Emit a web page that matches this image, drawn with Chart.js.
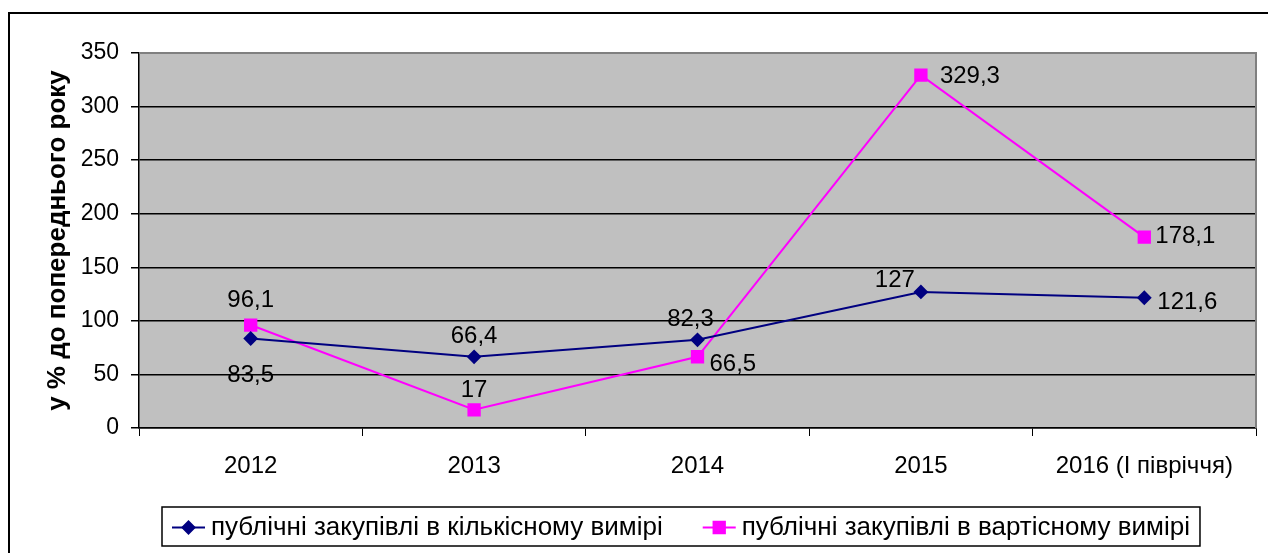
<!DOCTYPE html>
<html>
<head>
<meta charset="utf-8">
<script src="https://cdn.jsdelivr.net/npm/chart.js@4"></script>
<style>
    html, body { margin: 0; padding: 0; background: #fff; }
    #wrap { width: 1268px; height: 553px; }
</style>
</head>
<body>
<div id="wrap"><canvas id="chart" width="1268" height="553"></canvas></div>
<script>
const categories = ["2012", "2013", "2014", "2015", "2016 (І півріччя)"];
const seriesNames = [
    "публічні закупівлі в кількісному вимірі",
    "публічні закупівлі в вартісному вимірі"
];
const kilkist = [83.5, 66.4, 82.3, 127, 121.6];
const vartist = [96.1, 17, 66.5, 329.3, 178.1];
const yTicks = [0, 50, 100, 150, 200, 250, 300, 350];
const yTitle = "у % до попереднього року";

const FONT = "'Liberation Sans', Arial, sans-serif";

// where each value label sits relative to its point: [dx, dy, align]
const labelPlace = [
    [[0, 37, "center"], [0, -20, "center"], [-7, -20, "center"], [-6, -12, "right"], [13, 5, "left"]],
    [[0, -25, "center"], [0, -19, "center"], [12, 8, "left"], [19, 1, "left"], [11, -1, "left"]]
];

function fmt(v) {
    return String(v).replace(".", ",");
}

/* =========================
   фон, рамки, підписи, легенда
========================= */
const decor = {
    id: "decor",
    beforeDraw(chart) {
        const { ctx, chartArea: a } = chart;
        ctx.save();
        ctx.fillStyle = "#fff";
        ctx.fillRect(0, 0, chart.width, chart.height);
        ctx.fillStyle = "#C0C0C0";
        ctx.fillRect(a.left, a.top, a.right - a.left, a.bottom - a.top);
        ctx.restore();
    },
    beforeDatasetsDraw(chart) {
        const { ctx, chartArea: a } = chart;
        ctx.save();
        ctx.strokeStyle = "#808080";
        ctx.lineWidth = 2;
        ctx.beginPath();
        ctx.moveTo(a.left, a.top);
        ctx.lineTo(a.right, a.top);
        ctx.lineTo(a.right, a.bottom);
        ctx.stroke();
        ctx.restore();
    },
    afterDatasetsDraw(chart) {
        const { ctx } = chart;
        ctx.save();
        ctx.font = "24px " + FONT;
        ctx.fillStyle = "#000";
        ctx.textBaseline = "middle";
        chart.data.datasets.forEach((ds, di) => {
            chart.getDatasetMeta(di).data.forEach((pt, i) => {
                const [dx, dy, al] = labelPlace[di][i];
                ctx.textAlign = al;
                ctx.fillText(fmt(ds.data[i]), pt.x + dx, pt.y + dy);
            });
        });
        ctx.restore();
    },
    afterDraw(chart) {
        const { ctx } = chart;
        ctx.save();
        // зовнішня рамка
        ctx.strokeStyle = "#000";
        ctx.lineWidth = 2;
        ctx.beginPath();
        ctx.moveTo(9, chart.height);
        ctx.lineTo(9, 13);
        ctx.lineTo(chart.width, 13);
        ctx.stroke();

        // легенда
        ctx.font = "26px " + FONT;
        ctx.textBaseline = "middle";
        ctx.textAlign = "left";
        const boxLeft = 162, boxTop = 507, boxH = 39, cy = boxTop + boxH / 2 + 1;
        let x = boxLeft + 10;
        chart.data.datasets.forEach((ds, di) => {
            ctx.strokeStyle = ds.borderColor;
            ctx.lineWidth = 2;
            ctx.beginPath();
            ctx.moveTo(x, cy);
            ctx.lineTo(x + 33, cy);
            ctx.stroke();
            Chart.helpers.drawPoint(ctx, {
                pointStyle: ds.pointStyle,
                radius: ds.pointRadius,
                borderWidth: 1
            }, x + 16.5, cy);
            ctx.fillStyle = ds.borderColor;
            ctx.fill();
            ctx.fillStyle = "#000";
            ctx.fillText(ds.label, x + 39, cy);
            x += 39 + ctx.measureText(ds.label).width + 40;
        });
        const boxRight = x - 40 + 10;
        ctx.strokeStyle = "#000";
        ctx.lineWidth = 1.5;
        ctx.strokeRect(boxLeft, boxTop, boxRight - boxLeft, boxH);
        ctx.restore();
    }
};

new Chart(document.getElementById("chart"), {
    type: "line",
    data: {
        labels: categories,
        datasets: [
            {
                label: seriesNames[0],
                data: kilkist,
                borderColor: "#000080",
                backgroundColor: "#000080",
                borderWidth: 2,
                pointStyle: "rectRot",
                pointRadius: 6,
                pointHoverRadius: 6,
                tension: 0
            },
            {
                label: seriesNames[1],
                data: vartist,
                borderColor: "#FF00FF",
                backgroundColor: "#FF00FF",
                borderWidth: 2,
                pointStyle: "rect",
                pointRadius: 8,
                pointHoverRadius: 8,
                tension: 0
            }
        ]
    },
    options: {
        responsive: false,
        animation: false,
        events: [],
        layout: { padding: { left: 0, top: 53, right: 12, bottom: 55 } },
        plugins: {
            legend: { display: false },
            tooltip: { enabled: false }
        },
        scales: {
            x: {
                offset: true,
                grid: {
                    offset: true,
                    drawOnChartArea: false,
                    color: "#000",
                    tickLength: 8
                },
                border: { color: "#000", width: 1.5 },
                ticks: {
                    color: "#000",
                    font: { family: FONT, size: 24 },
                    padding: 16,
                    maxRotation: 0,
                    autoSkip: false
                },
                afterFit(s) { s.height = 70; }
            },
            y: {
                min: yTicks[0],
                max: yTicks[yTicks.length - 1],
                afterBuildTicks(s) { s.ticks = yTicks.map(v => ({ value: v })); },
                grid: { color: "#000", lineWidth: 1.5, tickLength: 8 },
                border: { color: "#000", width: 1.5 },
                ticks: {
                    color: "#000",
                    font: { family: FONT, size: 23 },
                    padding: 12
                },
                title: {
                    display: true,
                    text: yTitle,
                    color: "#000",
                    font: { family: FONT, size: 26, weight: "bold" },
                    padding: { top: 42, bottom: 0 }
                },
                afterFit(s) { s.width = 139; }
            }
        }
    },
    plugins: [decor]
});
</script>
</body>
</html>
